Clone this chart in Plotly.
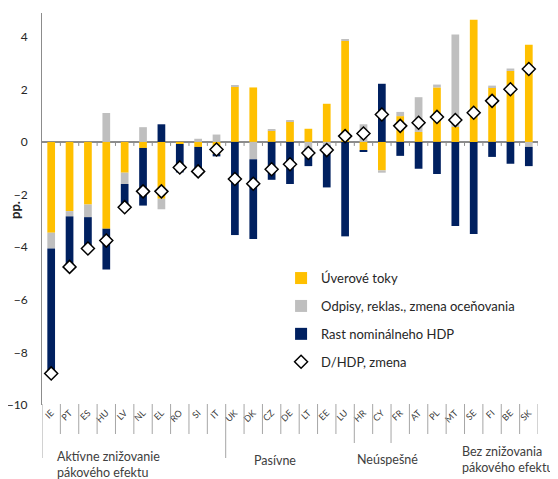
import plotly.graph_objects as go

countries = ["IE", "PT", "ES", "HU", "LV", "NL", "EL", "RO", "SI", "IT",
             "UK", "DK", "CZ", "DE", "LT", "EE", "LU", "HR", "CY", "FR",
             "AT", "PL", "MT", "SE", "FI", "BE", "SK"]

credit_flows = [-3.45, -2.63, -2.38, -3.30, -1.17, -0.23, -2.16, -0.08, -0.19, -0.45,
                2.10, 2.07, 0.43, 0.79, 0.50, 1.45, 3.84, -0.32, -1.08, 0.98,
                0.38, 2.07, 0.57, 4.64, 2.07, 2.70, 3.69]

write_offs = [-0.60, -0.20, -0.48, 1.10, -0.43, 0.56, -0.40, 0.00, 0.12, 0.28,
              0.05, -0.66, 0.04, 0.04, -0.25, -0.13, 0.05, 0.67, -0.09, 0.16,
              1.32, 0.11, 3.51, 0.00, 0.07, 0.09, -0.19]

gdp_growth = [-4.80, -1.96, -1.20, -1.55, -0.86, -2.19, 0.67, -1.08, -1.08, -0.10,
              -3.54, -3.03, -1.44, -1.60, -0.67, -1.60, -3.59, -0.05, 2.21, -0.53,
              -1.02, -1.22, -3.20, -3.50, -0.57, -0.83, -0.73]

debt_change = [-8.80, -4.75, -4.05, -3.75, -2.48, -1.88, -1.88, -0.97, -1.12, -0.29,
               -1.41, -1.59, -1.04, -0.85, -0.42, -0.31, 0.22, 0.32, 1.04, 0.61,
               0.73, 0.95, 0.83, 1.11, 1.56, 2.00, 2.77]

series_names = ["Úverové toky", "Odpisy, reklas., zmena oceňovania",
                "Rast nominálneho HDP", "D/HDP, zmena"]

group_labels = ["Aktívne znižovanie<br>pákového efektu", "Pasívne",
                "Neúspešné", "Bez znižovania<br>pákového efektu"]

y_ticks = [-10, -8, -6, -4, -2, 0, 2, 4]

FONT = "Lato, 'Open Sans', sans-serif"
YELLOW, GREY, NAVY = "#FFC000", "#BFBFBF", "#002060"

fig = go.Figure()
for name, vals, col in zip(series_names[:3], [credit_flows, write_offs, gdp_growth],
                           [YELLOW, GREY, NAVY]):
    fig.add_trace(go.Bar(x=countries, y=vals, name=name, marker_color=col,
                         marker_line_width=0, legendgroup=name))

fig.add_trace(go.Scatter(x=countries, y=debt_change, name=series_names[3], mode="markers",
                         legendgroup=series_names[3],
                         marker=dict(symbol="diamond", size=10, color="white",
                                     line=dict(color="black", width=1.5))))

shapes = []
n = len(countries)
# small ticks on the zero line at category boundaries
for i in range(1, n + 1):
    shapes.append(dict(type="line", xref="x", yref="y", x0=i - 0.5, x1=i - 0.5,
                       ysizemode="pixel", yanchor=0, y0=0, y1=-4,
                       line=dict(color="#8c8c8c", width=1)))
# separators below the plot
for i in range(0, n + 1):
    if i in (0, 10):
        ln = 53
    elif i in (17, 19):
        ln = 38
    else:
        ln = 29
    shapes.append(dict(type="line", xref="x", yref="paper", x0=i - 0.5, x1=i - 0.5,
                       ysizemode="pixel", yanchor=0, y0=1, y1=-ln,
                       line=dict(color="#a6a6a6", width=1)))

annotations = []
ann_x = [0.21, 12.18, 18.28, 22.25]
ann_anchor = ["left", "center", "center", "left"]
ann_y = [-0.152, -0.142, -0.139, -0.139]
for lab, xx, anc, yy in zip(group_labels, ann_x, ann_anchor, ann_y):
    annotations.append(dict(text=lab, x=xx, y=yy, xref="x", yref="paper",
                            xanchor=anc, yanchor="middle", align="left",
                            showarrow=False,
                            font=dict(family=FONT, size=12.5, color="#404040")))
# y-axis title
annotations.append(dict(text="<b>pp.</b>", xref="paper", yref="paper",
                        x=-27 / 496, y=(405 - 210) / 392, xanchor="center", yanchor="middle",
                        textangle=-90, showarrow=False,
                        font=dict(family=FONT, size=13, color="#262626")))

# page body has an 8px margin, so the figure is sized to fit the 558x479 window
fig.update_layout(
    width=550, height=471,
    margin=dict(l=34, r=20, t=5, b=74, autoexpand=False),
    paper_bgcolor="white", plot_bgcolor="white",
    barmode="relative", bargap=0.58,
    font=dict(family=FONT, size=12, color="#262626"),
    showlegend=True,
    legend=dict(x=0.482, y=0.362, xanchor="left", yanchor="top",
                traceorder="grouped", tracegroupgap=8, itemwidth=30,
                bgcolor="rgba(0,0,0,0)", font=dict(family=FONT, size=13, color="#262626")),
    shapes=shapes, annotations=annotations,
)
fig.update_xaxes(range=[-0.5, n - 0.5], showline=False, ticks="", showgrid=False,
                 tickangle=-45, tickfont=dict(family=FONT, size=9, color="#404040"),
                 zeroline=False, automargin=False)
fig.update_yaxes(range=[-10, 4.9], tickvals=y_ticks, showgrid=False,
                 showline=True, linecolor="#8c8c8c", linewidth=1, ticks="",
                 zeroline=True, zerolinecolor="#8c8c8c", zerolinewidth=1.5,
                 ticklabelstandoff=11, automargin=False,
                 tickfont=dict(family=FONT, size=12, color="#262626"))

fig.write_html("out.html")
